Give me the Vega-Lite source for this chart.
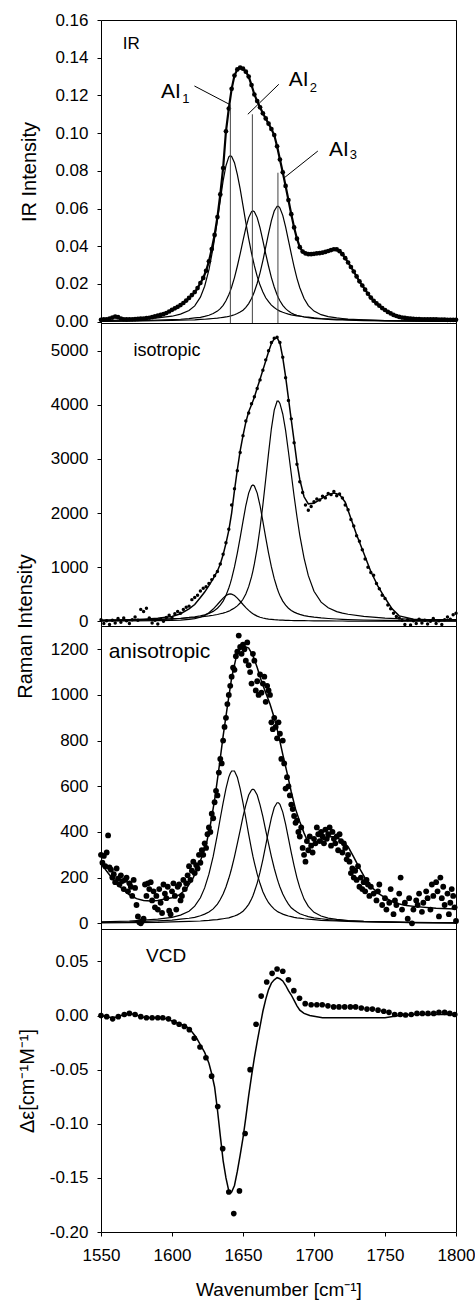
{
"$schema":"https://vega.github.io/schema/vega-lite/v6.json",
"padding":{"left":14,"top":10,"right":1,"bottom":2},
"spacing":0,
"bounds":"flush",
"config":{
 "font":"Liberation Sans",
 "view":{"stroke":"#000","strokeWidth":1},
 "axis":{"domain":false,"grid":false,"ticks":true,"tickSize":4,"tickColor":"#000","labelFontSize":17,"labelColor":"#000","labelPadding":9,"titleColor":"#000","titleFontWeight":"normal","labelOverlap":false,"labelFlush":false},
 "line":{"color":"#000"},
 "point":{"color":"#000","filled":true,"opacity":1},
 "rule":{"color":"#000"},
 "text":{"color":"#000"}
},
"datasets":{
 "irComp":[
  {"x":1550,"a":0.0006,"b":0.0003,"c":0.0002},{"x":1570,"a":0.0010,"b":0.0005,"c":0.0003},{"x":1590,"a":0.0020,"b":0.0008,"c":0.0005},{"x":1600,"a":0.0029,"b":0.0011,"c":0.0007},{"x":1606,"a":0.0040,"b":0.0013,"c":0.0008},{"x":1612,"a":0.0059,"b":0.0016,"c":0.0009},{"x":1616,"a":0.0084,"b":0.0020,"c":0.0010},{"x":1620,"a":0.0130,"b":0.0023,"c":0.0012},{"x":1623,"a":0.0188,"b":0.0028,"c":0.0013},{"x":1626,"a":0.0275,"b":0.0034,"c":0.0015},{"x":1629,"a":0.0394,"b":0.0043,"c":0.0017},{"x":1632,"a":0.0540,"b":0.0056,"c":0.0019},{"x":1634,"a":0.0645,"b":0.0069,"c":0.0021},{"x":1636,"a":0.0747,"b":0.0087,"c":0.0023},{"x":1638,"a":0.0827,"b":0.0111,"c":0.0025},{"x":1640,"a":0.0874,"b":0.0143,"c":0.0028},{"x":1641,"a":0.0880,"b":0.0162,"c":0.0030},{"x":1642,"a":0.0876,"b":0.0184,"c":0.0032},{"x":1644,"a":0.0843,"b":0.0234,"c":0.0037},{"x":1646,"a":0.0781,"b":0.0294,"c":0.0043},{"x":1648,"a":0.0704,"b":0.0360,"c":0.0051},{"x":1650,"a":0.0616,"b":0.0430,"c":0.0061},{"x":1652,"a":0.0525,"b":0.0498,"c":0.0076},{"x":1654,"a":0.0440,"b":0.0552,"c":0.0096},{"x":1656,"a":0.0364,"b":0.0583,"c":0.0123},{"x":1657,"a":0.0331,"b":0.0587,"c":0.0140},{"x":1658,"a":0.0297,"b":0.0583,"c":0.0159},{"x":1660,"a":0.0240,"b":0.0552,"c":0.0204},{"x":1662,"a":0.0194,"b":0.0498,"c":0.0259},{"x":1664,"a":0.0157,"b":0.0430,"c":0.0324},{"x":1666,"a":0.0127,"b":0.0360,"c":0.0395},{"x":1668,"a":0.0106,"b":0.0294,"c":0.0468},{"x":1670,"a":0.0088,"b":0.0234,"c":0.0536},{"x":1672,"a":0.0075,"b":0.0184,"c":0.0587},{"x":1674,"a":0.0064,"b":0.0143,"c":0.0612},{"x":1675,"a":0.0060,"b":0.0126,"c":0.0612},{"x":1676,"a":0.0056,"b":0.0111,"c":0.0603},{"x":1678,"a":0.0050,"b":0.0087,"c":0.0564},{"x":1680,"a":0.0045,"b":0.0069,"c":0.0503},{"x":1682,"a":0.0040,"b":0.0056,"c":0.0431},{"x":1684,"a":0.0036,"b":0.0046,"c":0.0359},{"x":1686,"a":0.0033,"b":0.0039,"c":0.0291},{"x":1688,"a":0.0031,"b":0.0034,"c":0.0230},{"x":1690,"a":0.0029,"b":0.0030,"c":0.0180},{"x":1693,"a":0.0026,"b":0.0025,"c":0.0123},{"x":1696,"a":0.0024,"b":0.0021,"c":0.0085},{"x":1700,"a":0.0020,"b":0.0018,"c":0.0056},{"x":1705,"a":0.0017,"b":0.0015,"c":0.0037},{"x":1710,"a":0.0015,"b":0.0012,"c":0.0027},{"x":1716,"a":0.0013,"b":0.0010,"c":0.0020},{"x":1720,"a":0.0012,"b":0.0009,"c":0.0017},{"x":1724,"a":0.0011,"b":0.0008,"c":0.0014},{"x":1735,"a":0.0008,"b":0.0006,"c":0.0010},{"x":1750,"a":0.0006,"b":0.0004,"c":0.0006},{"x":1770,"a":0.0004,"b":0.0003,"c":0.0004},{"x":1800,"a":0.0003,"b":0.0002,"c":0.0002}
 ],
 "irData":[
  {"x":1550,"y":0.0010},{"x":1552,"y":0.0012},{"x":1554,"y":0.0013},{"x":1556,"y":0.0016},{"x":1558,"y":0.0022},{"x":1560,"y":0.0027},{"x":1562,"y":0.0024},{"x":1564,"y":0.0017},{"x":1566,"y":0.0013},{"x":1568,"y":0.0012},{"x":1570,"y":0.0013},{"x":1572,"y":0.0013},{"x":1574,"y":0.0014},{"x":1576,"y":0.0015},{"x":1578,"y":0.0016},{"x":1580,"y":0.0017},{"x":1582,"y":0.0019},{"x":1584,"y":0.0021},{"x":1586,"y":0.0024},{"x":1588,"y":0.0028},{"x":1590,"y":0.0032},{"x":1592,"y":0.0036},{"x":1594,"y":0.0040},{"x":1596,"y":0.0046},{"x":1598,"y":0.0054},{"x":1600,"y":0.0063},{"x":1602,"y":0.0071},{"x":1604,"y":0.0079},{"x":1606,"y":0.0088},{"x":1608,"y":0.0099},{"x":1610,"y":0.0112},{"x":1612,"y":0.0126},{"x":1614,"y":0.0141},{"x":1616,"y":0.0157},{"x":1618,"y":0.0178},{"x":1620,"y":0.0205},{"x":1622,"y":0.0232},{"x":1624,"y":0.0270},{"x":1626,"y":0.0320},{"x":1628,"y":0.0385},{"x":1630,"y":0.0460},{"x":1632,"y":0.0555},{"x":1634,"y":0.0675},{"x":1636,"y":0.0815},{"x":1638,"y":0.1010},{"x":1640,"y":0.1130},{"x":1642,"y":0.1235},{"x":1644,"y":0.1305},{"x":1646,"y":0.1338},{"x":1648,"y":0.1347},{"x":1650,"y":0.1342},{"x":1652,"y":0.1326},{"x":1654,"y":0.1300},{"x":1656,"y":0.1255},{"x":1658,"y":0.1205},{"x":1660,"y":0.1170},{"x":1662,"y":0.1137},{"x":1664,"y":0.1105},{"x":1666,"y":0.1078},{"x":1668,"y":0.1050},{"x":1670,"y":0.1022},{"x":1672,"y":0.0990},{"x":1674,"y":0.0930},{"x":1676,"y":0.0860},{"x":1678,"y":0.0792},{"x":1680,"y":0.0720},{"x":1682,"y":0.0645},{"x":1684,"y":0.0570},{"x":1686,"y":0.0500},{"x":1688,"y":0.0440},{"x":1690,"y":0.0395},{"x":1692,"y":0.0372},{"x":1694,"y":0.0362},{"x":1696,"y":0.0358},{"x":1698,"y":0.0358},{"x":1700,"y":0.0360},{"x":1702,"y":0.0362},{"x":1704,"y":0.0364},{"x":1706,"y":0.0366},{"x":1708,"y":0.0370},{"x":1710,"y":0.0375},{"x":1712,"y":0.0380},{"x":1714,"y":0.0384},{"x":1716,"y":0.0383},{"x":1718,"y":0.0374},{"x":1720,"y":0.0358},{"x":1722,"y":0.0337},{"x":1724,"y":0.0314},{"x":1726,"y":0.0290},{"x":1728,"y":0.0266},{"x":1730,"y":0.0240},{"x":1732,"y":0.0214},{"x":1734,"y":0.0192},{"x":1736,"y":0.0170},{"x":1738,"y":0.0148},{"x":1740,"y":0.0128},{"x":1742,"y":0.0111},{"x":1744,"y":0.0097},{"x":1746,"y":0.0085},{"x":1748,"y":0.0072},{"x":1750,"y":0.0062},{"x":1752,"y":0.0052},{"x":1754,"y":0.0044},{"x":1756,"y":0.0036},{"x":1758,"y":0.0030},{"x":1760,"y":0.0025},{"x":1762,"y":0.0022},{"x":1764,"y":0.0020},{"x":1766,"y":0.0018},{"x":1768,"y":0.0016},{"x":1770,"y":0.0015},{"x":1772,"y":0.0014},{"x":1774,"y":0.0014},{"x":1776,"y":0.0013},{"x":1778,"y":0.0013},{"x":1780,"y":0.0013},{"x":1782,"y":0.0012},{"x":1784,"y":0.0012},{"x":1786,"y":0.0012},{"x":1788,"y":0.0011},{"x":1790,"y":0.0011},{"x":1792,"y":0.0011},{"x":1794,"y":0.0010},{"x":1796,"y":0.0010},{"x":1798,"y":0.0010},{"x":1800,"y":0.0010}
 ],
 "irRules":[{"x":1641.1,"y":0.1153},{"x":1656.6,"y":0.110},{"x":1674.6,"y":0.079}],
 "irLeaders":[{"x":1615.8,"y":0.1250,"x2":1640.4,"y2":0.1153},{"x":1675.2,"y":0.1259,"x2":1653.4,"y2":0.1100},{"x":1702.7,"y":0.0905,"x2":1679.2,"y2":0.0764}],
 "irAI":[{"t":"AI","x":1592.3,"y":0.1188},{"t":"AI","x":1682.3,"y":0.1250},{"t":"AI","x":1710.5,"y":0.0879}],
 "irSub":[{"t":"1","x":1607.3,"y":0.1161},{"t":"2","x":1697.0,"y":0.1218},{"t":"3","x":1725.2,"y":0.0861}],
 "irTag":[{"t":"IR","x":1565.3,"y":0.1445}],
 "rules":[{"x":1641.1},{"x":1656.6},{"x":1674.6}],
 "isoComp":[
  {"x":1550,"a":4,"b":13,"c":16},{"x":1570,"a":6,"b":20,"c":22},{"x":1590,"a":11,"b":33,"c":34},{"x":1600,"a":17,"b":45,"c":44},{"x":1606,"a":23,"b":56,"c":52},{"x":1612,"a":34,"b":71,"c":61},{"x":1616,"a":48,"b":84,"c":70},{"x":1620,"a":75,"b":101,"c":79},{"x":1623,"a":108,"b":118,"c":90},{"x":1626,"a":158,"b":146,"c":100},{"x":1629,"a":226,"b":183,"c":112},{"x":1632,"a":310,"b":241,"c":126},{"x":1634,"a":370,"b":297,"c":139},{"x":1636,"a":429,"b":373,"c":151},{"x":1638,"a":475,"b":476,"c":167},{"x":1640,"a":501,"b":615,"c":187},{"x":1641,"a":505,"b":695,"c":200},{"x":1642,"a":501,"b":788,"c":216},{"x":1644,"a":475,"b":1005,"c":244},{"x":1646,"a":429,"b":1260,"c":285},{"x":1648,"a":370,"b":1547,"c":338},{"x":1650,"a":310,"b":1846,"c":407},{"x":1652,"a":253,"b":2139,"c":505},{"x":1654,"a":202,"b":2368,"c":640},{"x":1656,"a":158,"b":2501,"c":819},{"x":1657,"a":139,"b":2519,"c":933},{"x":1658,"a":123,"b":2501,"c":1059},{"x":1660,"a":95,"b":2368,"c":1357},{"x":1662,"a":75,"b":2139,"c":1723},{"x":1664,"a":60,"b":1846,"c":2151},{"x":1666,"a":48,"b":1547,"c":2624},{"x":1668,"a":40,"b":1260,"c":3108},{"x":1670,"a":34,"b":1005,"c":3561},{"x":1672,"a":29,"b":788,"c":3903},{"x":1674,"a":26,"b":615,"c":4066},{"x":1675,"a":24,"b":539,"c":4066},{"x":1676,"a":23,"b":476,"c":4025},{"x":1678,"a":20,"b":373,"c":3830},{"x":1680,"a":18,"b":297,"c":3528},{"x":1682,"a":17,"b":241,"c":3133},{"x":1684,"a":15,"b":199,"c":2721},{"x":1686,"a":14,"b":169,"c":2310},{"x":1688,"a":13,"b":146,"c":1931},{"x":1690,"a":12,"b":128,"c":1589},{"x":1693,"a":11,"b":106,"c":1169},{"x":1696,"a":10,"b":91,"c":843},{"x":1700,"a":8,"b":77,"c":554},{"x":1705,"a":7,"b":63,"c":354},{"x":1710,"a":6,"b":52,"c":249},{"x":1716,"a":5,"b":42,"c":179},{"x":1720,"a":5,"b":37,"c":151},{"x":1724,"a":4,"b":33,"c":130},{"x":1735,"a":3,"b":24,"c":90},{"x":1750,"a":2,"b":17,"c":59},{"x":1770,"a":2,"b":12,"c":37},{"x":1800,"a":1,"b":7,"c":22}
 ],
 "isoFit":[
  {"x":1550,"y":20},{"x":1560,"y":25},{"x":1570,"y":30},{"x":1580,"y":40},{"x":1590,"y":55},{"x":1600,"y":90},{"x":1606,"y":140},{"x":1612,"y":230},{"x":1616,"y":310},{"x":1620,"y":440},{"x":1623,"y":540},{"x":1626,"y":660},{"x":1629,"y":790},{"x":1632,"y":930},{"x":1634,"y":1060},{"x":1636,"y":1230},{"x":1638,"y":1440},{"x":1640,"y":1680},{"x":1642,"y":2000},{"x":1644,"y":2420},{"x":1646,"y":2800},{"x":1648,"y":3150},{"x":1650,"y":3430},{"x":1652,"y":3680},{"x":1654,"y":3870},{"x":1656,"y":4000},{"x":1658,"y":4140},{"x":1660,"y":4310},{"x":1662,"y":4470},{"x":1664,"y":4640},{"x":1666,"y":4810},{"x":1668,"y":4980},{"x":1670,"y":5130},{"x":1672,"y":5220},{"x":1674,"y":5240},{"x":1676,"y":5140},{"x":1678,"y":4870},{"x":1680,"y":4520},{"x":1682,"y":4120},{"x":1684,"y":3720},{"x":1686,"y":3330},{"x":1688,"y":2930},{"x":1690,"y":2620},{"x":1693,"y":2300},{"x":1696,"y":2170},{"x":1700,"y":2180},{"x":1705,"y":2260},{"x":1710,"y":2340},{"x":1714,"y":2370},{"x":1718,"y":2340},{"x":1722,"y":2200},{"x":1726,"y":1900},{"x":1730,"y":1600},{"x":1735,"y":1260},{"x":1740,"y":920},{"x":1745,"y":650},{"x":1750,"y":430},{"x":1755,"y":230},{"x":1760,"y":100},{"x":1770,"y":40},{"x":1780,"y":30},{"x":1800,"y":30}
 ],
 "isoData":[
  {"x":1550,"y":30},{"x":1552,"y":-40},{"x":1554,"y":10},{"x":1556,"y":-60},{"x":1558,"y":20},{"x":1560,"y":-30},{"x":1562,"y":50},{"x":1564,"y":-20},{"x":1566,"y":60},{"x":1568,"y":10},{"x":1570,"y":-40},{"x":1572,"y":30},{"x":1574,"y":80},{"x":1576,"y":20},{"x":1578,"y":220},{"x":1580,"y":180},{"x":1582,"y":240},{"x":1584,"y":60},{"x":1586,"y":-30},{"x":1588,"y":20},{"x":1590,"y":-50},{"x":1592,"y":40},{"x":1594,"y":0},{"x":1596,"y":70},{"x":1598,"y":110},{"x":1600,"y":60},{"x":1602,"y":140},{"x":1604,"y":180},{"x":1606,"y":150},{"x":1608,"y":220},{"x":1610,"y":260},{"x":1612,"y":280},{"x":1614,"y":400},{"x":1616,"y":440},{"x":1618,"y":480},{"x":1620,"y":560},{"x":1622,"y":610},{"x":1624,"y":640},{"x":1626,"y":700},{"x":1628,"y":770},{"x":1630,"y":840},{"x":1632,"y":920},{"x":1634,"y":1060},{"x":1636,"y":1240},{"x":1638,"y":1450},{"x":1640,"y":1700},{"x":1642,"y":2150},{"x":1644,"y":2450},{"x":1646,"y":2780},{"x":1648,"y":3120},{"x":1650,"y":3430},{"x":1652,"y":3700},{"x":1654,"y":3850},{"x":1656,"y":4020},{"x":1658,"y":4150},{"x":1660,"y":4300},{"x":1662,"y":4460},{"x":1664,"y":4640},{"x":1666,"y":4830},{"x":1668,"y":5000},{"x":1670,"y":5150},{"x":1672,"y":5230},{"x":1674,"y":5250},{"x":1676,"y":5150},{"x":1678,"y":4880},{"x":1680,"y":4500},{"x":1682,"y":4080},{"x":1684,"y":3740},{"x":1686,"y":3300},{"x":1688,"y":2900},{"x":1690,"y":2580},{"x":1692,"y":2380},{"x":1694,"y":2150},{"x":1696,"y":2050},{"x":1698,"y":2120},{"x":1700,"y":2210},{"x":1702,"y":2260},{"x":1704,"y":2240},{"x":1706,"y":2310},{"x":1708,"y":2280},{"x":1710,"y":2360},{"x":1712,"y":2340},{"x":1714,"y":2400},{"x":1716,"y":2320},{"x":1718,"y":2350},{"x":1720,"y":2280},{"x":1722,"y":2150},{"x":1724,"y":2060},{"x":1726,"y":1880},{"x":1728,"y":1760},{"x":1730,"y":1580},{"x":1732,"y":1480},{"x":1734,"y":1320},{"x":1736,"y":1150},{"x":1738,"y":1000},{"x":1740,"y":900},{"x":1742,"y":850},{"x":1744,"y":700},{"x":1746,"y":600},{"x":1748,"y":480},{"x":1750,"y":420},{"x":1752,"y":300},{"x":1754,"y":230},{"x":1756,"y":150},{"x":1758,"y":90},{"x":1760,"y":60},{"x":1762,"y":20},{"x":1764,"y":-60},{"x":1766,"y":30},{"x":1768,"y":-70},{"x":1770,"y":10},{"x":1772,"y":-40},{"x":1774,"y":40},{"x":1776,"y":-30},{"x":1778,"y":20},{"x":1780,"y":-50},{"x":1782,"y":0},{"x":1784,"y":50},{"x":1786,"y":-40},{"x":1788,"y":10},{"x":1790,"y":-60},{"x":1792,"y":30},{"x":1794,"y":80},{"x":1796,"y":40},{"x":1798,"y":120},{"x":1800,"y":150}
 ],
 "isoTag":[{"t":"isotropic","x":1572.8,"y":4895}],
 "anComp":[
  {"x":1550,"a":6,"b":4,"c":2},{"x":1570,"a":10,"b":6,"c":3},{"x":1590,"a":18,"b":11,"c":4},{"x":1600,"a":26,"b":14,"c":6},{"x":1606,"a":36,"b":18,"c":7},{"x":1612,"a":53,"b":22,"c":8},{"x":1616,"a":75,"b":26,"c":9},{"x":1620,"a":112,"b":33,"c":10},{"x":1623,"a":155,"b":40,"c":12},{"x":1626,"a":215,"b":49,"c":13},{"x":1629,"a":293,"b":63,"c":15},{"x":1632,"a":389,"b":84,"c":16},{"x":1634,"a":460,"b":104,"c":18},{"x":1636,"a":527,"b":128,"c":20},{"x":1638,"a":590,"b":159,"c":22},{"x":1640,"a":640,"b":197,"c":24},{"x":1641,"a":656,"b":218,"c":26},{"x":1642,"a":667,"b":241,"c":28},{"x":1644,"a":667,"b":292,"c":32},{"x":1646,"a":640,"b":349,"c":37},{"x":1648,"a":590,"b":407,"c":44},{"x":1650,"a":527,"b":467,"c":53},{"x":1652,"a":460,"b":519,"c":66},{"x":1654,"a":389,"b":562,"c":83},{"x":1656,"a":324,"b":584,"c":106},{"x":1657,"a":293,"b":587,"c":121},{"x":1658,"a":266,"b":584,"c":138},{"x":1660,"a":215,"b":562,"c":176},{"x":1662,"a":174,"b":519,"c":224},{"x":1664,"a":138,"b":467,"c":279},{"x":1666,"a":112,"b":407,"c":341},{"x":1668,"a":90,"b":349,"c":404},{"x":1670,"a":75,"b":292,"c":462},{"x":1672,"a":62,"b":241,"c":507},{"x":1674,"a":53,"b":197,"c":528},{"x":1675,"a":49,"b":177,"c":528},{"x":1676,"a":46,"b":159,"c":521},{"x":1678,"a":40,"b":128,"c":487},{"x":1680,"a":36,"b":104,"c":434},{"x":1682,"a":32,"b":84,"c":372},{"x":1684,"a":29,"b":68,"c":309},{"x":1686,"a":26,"b":58,"c":251},{"x":1688,"a":24,"b":49,"c":199},{"x":1690,"a":23,"b":42,"c":156},{"x":1693,"a":20,"b":35,"c":106},{"x":1696,"a":18,"b":29,"c":74},{"x":1700,"a":16,"b":24,"c":48},{"x":1705,"a":13,"b":20,"c":32},{"x":1710,"a":12,"b":16,"c":23},{"x":1716,"a":10,"b":13,"c":17},{"x":1720,"a":9,"b":12,"c":15},{"x":1724,"a":8,"b":11,"c":12},{"x":1735,"a":6,"b":8,"c":8},{"x":1750,"a":5,"b":6,"c":6},{"x":1770,"a":3,"b":4,"c":3},{"x":1800,"a":2,"b":2,"c":2}
 ],
 "anFit":[
  {"x":1550,"y":262},{"x":1555,"y":220},{"x":1560,"y":180},{"x":1565,"y":150},{"x":1570,"y":125},{"x":1575,"y":108},{"x":1580,"y":100},{"x":1585,"y":98},{"x":1590,"y":100},{"x":1595,"y":106},{"x":1600,"y":112},{"x":1605,"y":124},{"x":1610,"y":150},{"x":1615,"y":200},{"x":1618,"y":240},{"x":1621,"y":290},{"x":1624,"y":342},{"x":1627,"y":430},{"x":1630,"y":540},{"x":1633,"y":675},{"x":1636,"y":820},{"x":1639,"y":950},{"x":1642,"y":1075},{"x":1645,"y":1160},{"x":1648,"y":1200},{"x":1651,"y":1213},{"x":1654,"y":1205},{"x":1657,"y":1172},{"x":1660,"y":1120},{"x":1663,"y":1060},{"x":1666,"y":1010},{"x":1669,"y":960},{"x":1672,"y":900},{"x":1675,"y":825},{"x":1678,"y":740},{"x":1681,"y":660},{"x":1684,"y":575},{"x":1687,"y":500},{"x":1690,"y":445},{"x":1693,"y":395},{"x":1696,"y":352},{"x":1700,"y":345},{"x":1704,"y":358},{"x":1708,"y":372},{"x":1712,"y":380},{"x":1716,"y":376},{"x":1720,"y":360},{"x":1724,"y":335},{"x":1728,"y":290},{"x":1732,"y":242},{"x":1736,"y":198},{"x":1740,"y":162},{"x":1745,"y":132},{"x":1750,"y":112},{"x":1757,"y":89},{"x":1765,"y":78},{"x":1772,"y":73},{"x":1786,"y":66},{"x":1800,"y":63}
 ],
 "anData":[
  {"x":1550,"y":300},{"x":1551,"y":265},{"x":1552,"y":295},{"x":1553,"y":250},{"x":1554,"y":310},{"x":1555,"y":385},{"x":1556,"y":245},{"x":1557,"y":235},{"x":1558,"y":200},{"x":1559,"y":215},{"x":1560,"y":180},{"x":1561,"y":240},{"x":1562,"y":195},{"x":1563,"y":170},{"x":1564,"y":210},{"x":1565,"y":185},{"x":1566,"y":150},{"x":1567,"y":190},{"x":1568,"y":200},{"x":1569,"y":140},{"x":1570,"y":175},{"x":1571,"y":160},{"x":1572,"y":120},{"x":1573,"y":190},{"x":1574,"y":155},{"x":1575,"y":80},{"x":1576,"y":30},{"x":1577,"y":5},{"x":1578,"y":0},{"x":1579,"y":10},{"x":1580,"y":20},{"x":1581,"y":170},{"x":1582,"y":120},{"x":1583,"y":175},{"x":1584,"y":150},{"x":1585,"y":180},{"x":1586,"y":100},{"x":1587,"y":140},{"x":1588,"y":70},{"x":1589,"y":120},{"x":1590,"y":60},{"x":1591,"y":150},{"x":1592,"y":90},{"x":1593,"y":45},{"x":1594,"y":170},{"x":1595,"y":130},{"x":1596,"y":110},{"x":1597,"y":160},{"x":1598,"y":55},{"x":1599,"y":40},{"x":1600,"y":140},{"x":1601,"y":175},{"x":1602,"y":120},{"x":1603,"y":60},{"x":1604,"y":160},{"x":1605,"y":170},{"x":1606,"y":100},{"x":1607,"y":120},{"x":1608,"y":190},{"x":1609,"y":150},{"x":1610,"y":175},{"x":1611,"y":210},{"x":1612,"y":250},{"x":1613,"y":190},{"x":1614,"y":230},{"x":1615,"y":270},{"x":1616,"y":220},{"x":1617,"y":255},{"x":1618,"y":240},{"x":1619,"y":300},{"x":1620,"y":265},{"x":1621,"y":320},{"x":1622,"y":300},{"x":1623,"y":350},{"x":1624,"y":330},{"x":1625,"y":390},{"x":1626,"y":420},{"x":1627,"y":400},{"x":1628,"y":480},{"x":1629,"y":460},{"x":1630,"y":530},{"x":1631,"y":580},{"x":1632,"y":560},{"x":1633,"y":660},{"x":1634,"y":720},{"x":1635,"y":700},{"x":1636,"y":800},{"x":1637,"y":860},{"x":1638,"y":900},{"x":1639,"y":960},{"x":1640,"y":1000},{"x":1641,"y":1040},{"x":1642,"y":1080},{"x":1643,"y":1120},{"x":1644,"y":1110},{"x":1645,"y":1170},{"x":1646,"y":1190},{"x":1647,"y":1260},{"x":1648,"y":1210},{"x":1649,"y":1180},{"x":1650,"y":1220},{"x":1651,"y":1200},{"x":1652,"y":1150},{"x":1653,"y":1230},{"x":1654,"y":1130},{"x":1655,"y":1100},{"x":1656,"y":1050},{"x":1657,"y":1180},{"x":1658,"y":1150},{"x":1659,"y":1020},{"x":1660,"y":1060},{"x":1661,"y":1000},{"x":1662,"y":1090},{"x":1663,"y":1010},{"x":1664,"y":1050},{"x":1665,"y":1080},{"x":1666,"y":970},{"x":1667,"y":1040},{"x":1668,"y":1020},{"x":1669,"y":1000},{"x":1670,"y":880},{"x":1671,"y":850},{"x":1672,"y":900},{"x":1673,"y":860},{"x":1674,"y":810},{"x":1675,"y":880},{"x":1676,"y":830},{"x":1677,"y":720},{"x":1678,"y":800},{"x":1679,"y":700},{"x":1680,"y":590},{"x":1681,"y":640},{"x":1682,"y":600},{"x":1683,"y":560},{"x":1684,"y":520},{"x":1685,"y":500},{"x":1686,"y":470},{"x":1687,"y":440},{"x":1688,"y":450},{"x":1689,"y":400},{"x":1690,"y":380},{"x":1691,"y":420},{"x":1692,"y":330},{"x":1693,"y":300},{"x":1694,"y":270},{"x":1695,"y":360},{"x":1696,"y":320},{"x":1697,"y":380},{"x":1698,"y":340},{"x":1699,"y":310},{"x":1700,"y":370},{"x":1701,"y":350},{"x":1702,"y":420},{"x":1703,"y":390},{"x":1704,"y":360},{"x":1705,"y":400},{"x":1706,"y":380},{"x":1707,"y":350},{"x":1708,"y":410},{"x":1709,"y":370},{"x":1710,"y":390},{"x":1711,"y":420},{"x":1712,"y":340},{"x":1713,"y":400},{"x":1714,"y":370},{"x":1715,"y":350},{"x":1716,"y":380},{"x":1717,"y":320},{"x":1718,"y":390},{"x":1719,"y":360},{"x":1720,"y":310},{"x":1721,"y":350},{"x":1722,"y":330},{"x":1723,"y":280},{"x":1724,"y":300},{"x":1725,"y":270},{"x":1726,"y":220},{"x":1727,"y":240},{"x":1728,"y":200},{"x":1729,"y":230},{"x":1730,"y":190},{"x":1731,"y":250},{"x":1732,"y":160},{"x":1733,"y":200},{"x":1734,"y":150},{"x":1735,"y":180},{"x":1736,"y":140},{"x":1737,"y":190},{"x":1738,"y":170},{"x":1739,"y":120},{"x":1740,"y":160},{"x":1742,"y":130},{"x":1744,"y":100},{"x":1745,"y":140},{"x":1746,"y":170},{"x":1748,"y":80},{"x":1750,"y":110},{"x":1751,"y":60},{"x":1753,"y":90},{"x":1754,"y":150},{"x":1756,"y":40},{"x":1757,"y":100},{"x":1758,"y":80},{"x":1760,"y":130},{"x":1761,"y":200},{"x":1762,"y":60},{"x":1764,"y":90},{"x":1766,"y":20},{"x":1767,"y":110},{"x":1769,"y":0},{"x":1770,"y":60},{"x":1772,"y":100},{"x":1773,"y":80},{"x":1774,"y":130},{"x":1776,"y":50},{"x":1777,"y":90},{"x":1779,"y":140},{"x":1780,"y":110},{"x":1782,"y":60},{"x":1783,"y":170},{"x":1784,"y":120},{"x":1786,"y":180},{"x":1787,"y":140},{"x":1788,"y":30},{"x":1789,"y":200},{"x":1790,"y":110},{"x":1791,"y":160},{"x":1792,"y":80},{"x":1794,"y":130},{"x":1795,"y":40},{"x":1796,"y":90},{"x":1797,"y":150},{"x":1798,"y":120},{"x":1799,"y":70},{"x":1800,"y":10}
 ],
 "anTag":[{"t":"anisotropic","x":1555.4,"y":1163}],
 "vcdFit":[
  {"x":1550,"y":0.000},{"x":1554,"y":-0.001},{"x":1558,"y":-0.002},{"x":1562,"y":-0.001},{"x":1566,"y":0.001},{"x":1570,"y":0.002},{"x":1574,"y":0.001},{"x":1578,"y":-0.001},{"x":1582,"y":-0.002},{"x":1590,"y":-0.002},{"x":1596,"y":-0.003},{"x":1600,"y":-0.005},{"x":1604,"y":-0.007},{"x":1608,"y":-0.009},{"x":1611,"y":-0.011},{"x":1614,"y":-0.015},{"x":1617,"y":-0.020},{"x":1620,"y":-0.027},{"x":1623,"y":-0.034},{"x":1626,"y":-0.044},{"x":1628,"y":-0.054},{"x":1630,"y":-0.066},{"x":1632,"y":-0.087},{"x":1634,"y":-0.111},{"x":1636,"y":-0.134},{"x":1638,"y":-0.150},{"x":1640,"y":-0.162},{"x":1641,"y":-0.164},{"x":1642,"y":-0.163},{"x":1644,"y":-0.157},{"x":1646,"y":-0.144},{"x":1648,"y":-0.129},{"x":1650,"y":-0.113},{"x":1652,"y":-0.094},{"x":1654,"y":-0.074},{"x":1656,"y":-0.056},{"x":1658,"y":-0.039},{"x":1660,"y":-0.024},{"x":1662,"y":-0.010},{"x":1664,"y":0.004},{"x":1666,"y":0.015},{"x":1668,"y":0.024},{"x":1670,"y":0.030},{"x":1672,"y":0.033},{"x":1674,"y":0.035},{"x":1676,"y":0.034},{"x":1678,"y":0.032},{"x":1680,"y":0.028},{"x":1682,"y":0.023},{"x":1684,"y":0.019},{"x":1686,"y":0.014},{"x":1688,"y":0.009},{"x":1690,"y":0.005},{"x":1693,"y":0.002},{"x":1697,"y":0.000},{"x":1702,"y":-0.001},{"x":1706,"y":-0.002},{"x":1750,"y":-0.002},{"x":1760,"y":0.000},{"x":1770,"y":0.001},{"x":1800,"y":0.001}
 ],
 "vcdData":[
  {"x":1550,"y":0.000},{"x":1554,"y":-0.001},{"x":1558.2,"y":-0.003},{"x":1562.2,"y":-0.001},{"x":1566.4,"y":0.001},{"x":1570,"y":0.002},{"x":1574,"y":0.001},{"x":1578,"y":-0.001},{"x":1582,"y":-0.002},{"x":1586,"y":-0.002},{"x":1590,"y":-0.002},{"x":1593.5,"y":-0.002},{"x":1597.5,"y":-0.003},{"x":1601.5,"y":-0.006},{"x":1605,"y":-0.008},{"x":1608.7,"y":-0.010},{"x":1612.2,"y":-0.013},{"x":1615.7,"y":-0.021},{"x":1619.7,"y":-0.029},{"x":1623.9,"y":-0.039},{"x":1627.9,"y":-0.056},{"x":1632.2,"y":-0.084},{"x":1635.7,"y":-0.123},{"x":1640,"y":-0.163},{"x":1643.5,"y":-0.183},{"x":1647.5,"y":-0.162},{"x":1651.5,"y":-0.109},{"x":1655,"y":-0.050},{"x":1659.2,"y":-0.008},{"x":1662.8,"y":0.018},{"x":1666.7,"y":0.031},{"x":1670.5,"y":0.039},{"x":1674,"y":0.043},{"x":1678,"y":0.041},{"x":1682,"y":0.033},{"x":1685.8,"y":0.023},{"x":1689.8,"y":0.016},{"x":1693.8,"y":0.011},{"x":1698,"y":0.010},{"x":1702,"y":0.010},{"x":1705.8,"y":0.010},{"x":1709.8,"y":0.009},{"x":1713.8,"y":0.008},{"x":1717.6,"y":0.008},{"x":1721.6,"y":0.008},{"x":1725.6,"y":0.008},{"x":1729.3,"y":0.008},{"x":1733.3,"y":0.007},{"x":1737.3,"y":0.006},{"x":1741.1,"y":0.006},{"x":1745.1,"y":0.005},{"x":1749.1,"y":0.004},{"x":1752.8,"y":0.003},{"x":1756.8,"y":0.001},{"x":1760.8,"y":0.001},{"x":1764.5,"y":0.0005},{"x":1768.5,"y":0.001},{"x":1772.5,"y":0.002},{"x":1776.3,"y":0.002},{"x":1780.3,"y":0.002},{"x":1784.3,"y":0.002},{"x":1788,"y":0.003},{"x":1792,"y":0.003},{"x":1795.6,"y":0.002},{"x":1799.1,"y":0.001}
 ],
 "vcdTag":[{"t":"VCD","x":1581.7,"y":0.0493}]
},
"vconcat":[
 {
  "width":355,"height":303,
  "encoding":{
   "x":{"field":"x","type":"quantitative","scale":{"domain":[1550,1800],"nice":false,"zero":false},"axis":null},
   "y":{"field":"y","type":"quantitative","scale":{"domain":[-0.0007,0.16],"nice":false,"zero":false},
        "axis":{"values":[0,0.02,0.04,0.06,0.08,0.1,0.12,0.14,0.16],"format":".2f","title":"IR Intensity","titleFontSize":20,"titleX":-66,"titleY":151.5,"titleBaseline":"alphabetic","titleAngle":-90,"titleAlign":"center"}}
  },
  "layer":[
   {"data":{"name":"irComp"},"transform":[{"fold":["a","b","c"],"as":["k","y"]}],"mark":{"type":"line","strokeWidth":1.2},"encoding":{"detail":{"field":"k","type":"nominal"}}},
   {"data":{"name":"irData"},"mark":{"type":"line","strokeWidth":2.2},"encoding":{}},
   {"data":{"name":"irData"},"mark":{"type":"point","size":22,"filled":true,"opacity":1},"encoding":{}},
   {"data":{"name":"irRules"},"mark":{"type":"rule","color":"#444","strokeWidth":1},"encoding":{"y2":{"datum":-0.0007}}},
   {"data":{"name":"irLeaders"},"mark":{"type":"rule","strokeWidth":1},"encoding":{"x2":{"field":"x2"},"y2":{"field":"y2"}}},
   {"data":{"name":"irAI"},"mark":{"type":"text","fontSize":21,"align":"left","baseline":"alphabetic"},"encoding":{"text":{"field":"t"}}},
   {"data":{"name":"irSub"},"mark":{"type":"text","fontSize":13,"align":"left","baseline":"alphabetic"},"encoding":{"text":{"field":"t"}}},
   {"data":{"name":"irTag"},"mark":{"type":"text","fontSize":17,"align":"left","baseline":"alphabetic"},"encoding":{"text":{"field":"t"}}}
  ]
 },
 {
  "width":355,"height":303,
  "encoding":{
   "x":{"field":"x","type":"quantitative","scale":{"domain":[1550,1800],"nice":false,"zero":false},"axis":null},
   "y":{"field":"y","type":"quantitative","scale":{"domain":[-87,5511],"nice":false,"zero":false},
        "axis":{"values":[0,1000,2000,3000,4000,5000],"format":"d","title":"Raman Intensity","titleFontSize":20,"titleX":-70,"titleY":303,"titleBaseline":"alphabetic","titleAngle":-90,"titleAlign":"center"}}
  },
  "layer":[
   {"data":{"name":"isoComp"},"transform":[{"fold":["a","b","c"],"as":["k","y"]}],"mark":{"type":"line","strokeWidth":1.2},"encoding":{"detail":{"field":"k","type":"nominal"}}},
   {"data":{"name":"isoFit"},"mark":{"type":"line","strokeWidth":1.5},"encoding":{}},
   {"data":{"name":"isoData"},"mark":{"type":"point","size":12,"filled":true,"opacity":1},"encoding":{}},
   {"data":{"name":"rules"},"mark":{"type":"rule","color":"#444","strokeWidth":1},"encoding":{"y":{"datum":-87},"y2":{"datum":5511}}},
   {"data":{"name":"isoTag"},"mark":{"type":"text","fontSize":18,"align":"left","baseline":"alphabetic"},"encoding":{"text":{"field":"t"}}}
  ]
 },
 {
  "width":355,"height":303,
  "encoding":{
   "x":{"field":"x","type":"quantitative","scale":{"domain":[1550,1800],"nice":false,"zero":false},"axis":null},
   "y":{"field":"y","type":"quantitative","scale":{"domain":[-25,1302],"nice":false,"zero":false},
        "axis":{"values":[0,200,400,600,800,1000,1200],"format":"d","title":null}}
  },
  "layer":[
   {"data":{"name":"anComp"},"transform":[{"fold":["a","b","c"],"as":["k","y"]}],"mark":{"type":"line","strokeWidth":1.2},"encoding":{"detail":{"field":"k","type":"nominal"}}},
   {"data":{"name":"anFit"},"mark":{"type":"line","strokeWidth":1.5},"encoding":{}},
   {"data":{"name":"anData"},"mark":{"type":"point","size":34,"filled":true,"opacity":1},"encoding":{}},
   {"data":{"name":"rules"},"mark":{"type":"rule","color":"#444","strokeWidth":1},"encoding":{"y":{"datum":-25},"y2":{"datum":1302}}},
   {"data":{"name":"anTag"},"mark":{"type":"text","fontSize":21,"align":"left","baseline":"alphabetic"},"encoding":{"text":{"field":"t"}}}
  ]
 },
 {
  "width":355,"height":303,
  "encoding":{
   "x":{"field":"x","type":"quantitative","scale":{"domain":[1550,1800],"nice":false,"zero":false},
        "axis":{"values":[1550,1600,1650,1700,1750,1800],"format":"d","title":"Wavenumber [cm⁻¹]","titleFontSize":19,"labelPadding":11,"titlePadding":17}},
   "y":{"field":"y","type":"quantitative","scale":{"domain":[-0.2,0.08],"nice":false,"zero":false},
        "axis":{"values":[-0.2,-0.15,-0.1,-0.05,0,0.05],"labelExpr":"replace(format(datum.value, '.2f'), '−', '-')","title":"Δε[cm⁻¹M⁻¹]","titleFontSize":20,"titleX":-68,"titleY":151.5,"titleBaseline":"alphabetic","titleAngle":-90,"titleAlign":"center"}}
  },
  "layer":[
   {"data":{"name":"vcdFit"},"mark":{"type":"line","strokeWidth":1.5},"encoding":{}},
   {"data":{"name":"vcdData"},"mark":{"type":"point","size":32,"filled":true,"opacity":1},"encoding":{}},
   {"data":{"name":"rules"},"mark":{"type":"rule","color":"#444","strokeWidth":1},"encoding":{"y":{"datum":-0.2},"y2":{"datum":0.08}}},
   {"data":{"name":"vcdTag"},"mark":{"type":"text","fontSize":19,"align":"left","baseline":"alphabetic"},"encoding":{"text":{"field":"t"}}}
  ]
 }
]
}
